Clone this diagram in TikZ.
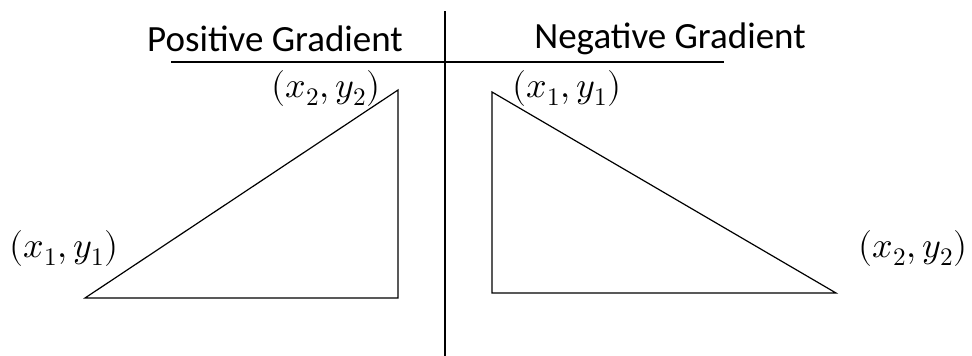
\documentclass[tikz,border=0pt]{standalone}
\usepackage{fontspec}
\usepackage{unicode-math}
\setmainfont{Carlito}
\setmathfont{Latin Modern Math}
\begin{document}
\begin{tikzpicture}[x=1pt,y=-1pt,
  ln/.style={line width=1.2pt,line cap=rect},
  head/.style={font=\fontsize{37}{42}\selectfont,inner sep=0pt},
  lab/.style={font=\fontsize{36}{40}\selectfont,inner sep=0pt}]
\useasboundingbox (0,0) rectangle (972,356);
% axes
\coordinate (vt) at (445,12);
\coordinate (vb) at (445,355);
\coordinate (hl) at (172,62);
\coordinate (hr) at (723,62);
\draw[ln] (vt) -- (vb);
\draw[ln] (hl) -- (hr);
\node[head] (pos) at (275,39) {Positive Gradient};
\node[head] (neg) at (670,39) {Negative Gradient};
% left triangle
\coordinate (a1) at (85,298);
\coordinate (a2) at (398,298);
\coordinate (a3) at (398,90);
\draw[ln,line join=miter] (a1) -- (a2) -- (a3) -- cycle;
\node[lab] (l2) at (326,88) {$(x_2,y_2)$};
\node[lab] (l1) at (64,248) {$(x_1,y_1)$};
% right triangle
\coordinate (b1) at (492,92);
\coordinate (b2) at (492,293);
\coordinate (b3) at (836,293);
\draw[ln,line join=miter] (b1) -- (b2) -- (b3) -- cycle;
\node[lab] (r1) at (567,88) {$(x_1,y_1)$};
\node[lab] (r2) at (913,248) {$(x_2,y_2)$};
\end{tikzpicture}
\end{document}
